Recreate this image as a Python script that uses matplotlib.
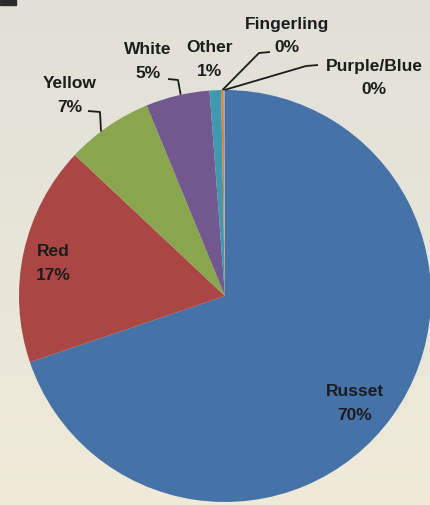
import matplotlib.pyplot as plt
import numpy as np

# potato type shares (percent)
types = ["Russet", "Red", "Yellow", "White", "Other", "Fingerling", "Purple/Blue"]
shares = [69.8, 17.2, 6.8, 5.0, 0.9, 0.2, 0.1]
colors = ["#4572A7", "#AA4643", "#89A54E", "#71588F", "#4198AF", "#DB843D", "#93A9CF"]

W, H = 431, 505
fig = plt.figure(figsize=(W / 100, H / 100), dpi=100)
ax = fig.add_axes([0, 0, 1, 1])

# soft slide background
grad = np.linspace(0, 1, 256)[:, None]
top = np.array([0.88, 0.88, 0.85])
bot = np.array([0.94, 0.92, 0.85])
bg = top + (bot - top) * grad[..., None]
ax.imshow(np.repeat(bg, 2, axis=1), extent=[0, W, 0, H], origin="upper",
          aspect="auto", zorder=0)
ax.add_patch(plt.Rectangle((0, H - 5), 16, 5, color="#2b2b2b", zorder=1))

cx, cy, r = 225, H - 296, 206
wedges, _ = ax.pie(shares, colors=colors, startangle=90, counterclock=False,
                   center=(cx, cy), radius=r, frame=True,
                   wedgeprops=dict(linewidth=0, zorder=2))
ax.set_xlim(0, W)
ax.set_ylim(0, H)
ax.set_aspect("auto")
ax.axis("off")

def pct(v):
    return f"{round(v):.0f}%"

txt = dict(fontsize=12.5, fontweight="bold", color="#1c1c1c", ha="center",
           va="center", family="Liberation Sans", zorder=4, linespacing=1.75)

# labels inside the big slices
ax.text(355, H - 404, f"{types[0]}\n{pct(shares[0])}", **txt)
ax.text(53, H - 264, f"{types[1]}\n{pct(shares[1])}", **txt)

def edge(w, frac=0.5):
    a = np.deg2rad(w.theta1 + (w.theta2 - w.theta1) * frac)
    return cx + r * np.cos(a), cy + r * np.sin(a)

def leader(start, elbow, w, frac=0.5):
    ex, ey = edge(w, frac)
    ax.plot([start[0], elbow[0], ex], [H - start[1], H - elbow[1], ey],
            color="#1c1c1c", lw=1.3, zorder=4, solid_capstyle="butt")

# outside labels with leader lines
ax.text(70, H - 95, f"{types[2]}\n{pct(shares[2])}", **txt)
leader((88, 111), (100, 112), wedges[2], 0.6)

ax.text(148, H - 62, f"{types[3]}\n{pct(shares[3])}", **txt)
leader((168, 79), (178, 80), wedges[3], 0.45)

ax.text(210, H - 59, f"{types[4]}\n{pct(shares[4])}", **txt)

ax.text(287, H - 36, f"{types[5]}\n{pct(shares[5])}", **txt)
leader((270, 52), (259, 53), wedges[5])

ax.text(374, H - 78, f"{types[6]}\n{pct(shares[6])}", **txt)
leader((318, 65), (306, 66), wedges[6])

fig.savefig("out.png", dpi=100)
